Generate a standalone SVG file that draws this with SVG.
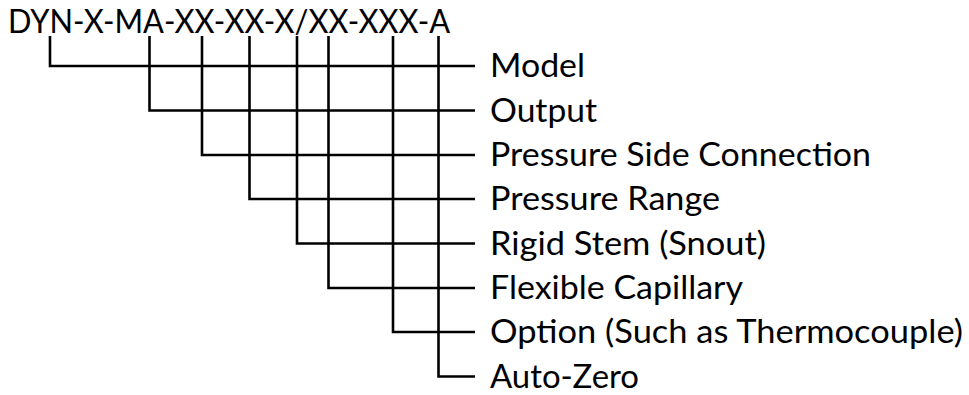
<svg xmlns="http://www.w3.org/2000/svg" width="969" height="395" viewBox="0 0 969 395">
<style>
.t{font-family:Lato,"Open Sans","Liberation Sans",sans-serif;font-size:32px;fill:#000}
.c path{fill:none;stroke:#000;stroke-width:2.6}
</style>
<rect width="969" height="395" fill="#fff"/>
<g id="code"><text class="t" x="8" y="33" font-size="30" textLength="442" lengthAdjust="spacingAndGlyphs">DYN-X-MA-XX-XX-X/XX-XXX-A</text></g>
<g class="c" id="connectors">
<path d="M50,36V66H475"/>
<path d="M149.5,36V110.5H475"/>
<path d="M202,36V155H475"/>
<path d="M249.5,36V199H475"/>
<path d="M297,36V243.5H475"/>
<path d="M328.5,36V288H475"/>
<path d="M393,36V332H475"/>
<path d="M438.5,36V376.5H475"/>
</g>
<g id="n1"><text class="t" x="490" y="77" textLength="95" lengthAdjust="spacingAndGlyphs">Model</text></g>
<g id="n2"><text class="t" x="490" y="121.5" textLength="107" lengthAdjust="spacingAndGlyphs">Output</text></g>
<g id="n3"><text class="t" x="490" y="166" textLength="381" lengthAdjust="spacingAndGlyphs">Pressure Side Connection</text></g>
<g id="n4"><text class="t" x="490" y="210" textLength="230" lengthAdjust="spacingAndGlyphs">Pressure Range</text></g>
<g id="n5"><text class="t" x="490" y="254.5" textLength="276" lengthAdjust="spacingAndGlyphs">Rigid Stem (Snout)</text></g>
<g id="n6"><text class="t" x="490" y="299" textLength="253" lengthAdjust="spacingAndGlyphs">Flexible Capillary</text></g>
<g id="n7"><text class="t" x="490" y="343" textLength="473" lengthAdjust="spacingAndGlyphs">Option (Such as Thermocouple)</text></g>
<g id="n8"><text class="t" x="490" y="387.5" textLength="149" lengthAdjust="spacingAndGlyphs">Auto-Zero</text></g>
</svg>
